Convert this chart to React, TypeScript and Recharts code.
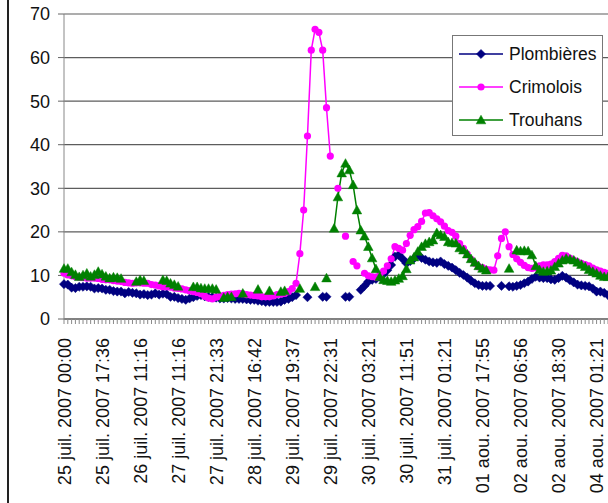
import { useEffect } from "react"
import { CartesianGrid, Legend, Line, LineChart, XAxis, YAxis } from "recharts"

// one label every LABEL_EVERY categories, as on the original axis
const LABEL_EVERY = 10

const tickLabels = [
  "25 juil. 2007 00:00",
  "25 juil. 2007 17:36",
  "26 juil. 2007 11:16",
  "27 juil. 2007 11:16",
  "27 juil. 2007 21:33",
  "28 juil. 2007 16:42",
  "29 juil. 2007 19:37",
  "29 juil. 2007 22:31",
  "30 juil. 2007 03:21",
  "30 juil. 2007 11:51",
  "31 juil. 2007 01:21",
  "01 aou. 2007 17:55",
  "02 aou. 2007 06:56",
  "02 aou. 2007 18:30",
  "04 aou. 2007 01:21",
]

const yTicks = [0, 10, 20, 30, 40, 50, 60, 70]

const plombieres: (number | null)[] = [
  8.0, 7.9, 7.2, 7.1, 7.4, 7.4, 7.5, 7.4, 7.0, 7.1,
  7.0, 6.7, 6.7, 6.4, 6.3, 6.3, 5.9, 6.2, 6.0, 5.9,
  5.6, 5.7, 5.5, 5.6, 5.9, 5.6, 5.8, 5.7, 5.1, 5.1,
  4.8, 4.6, 4.4, 4.7, 5.0, 5.3, 5.5, 5.2, 5.1, 5.0,
  4.9, 4.7, 4.7, 4.8, 4.7, 4.6, 4.6, 4.6, 4.5, 4.4,
  4.4, 4.2, 4.1, 3.9, 3.9, 3.9, 3.9, 4.0, 4.4, 4.6,
  5.0, 5.5, null, null, 5.0, null, null, null, 5.1, 5.1,
  null, null, null, null, 5.1, 5.1, null, null, 6.7, 7.6,
  8.6, 9.0, 9.2, 9.7, 10.3, 11.2, 12.4, 14.3, 14.7, 13.8,
  12.8, 13.3, 13.9, 14.7, 14.0, 13.6, 13.2, 13.0, 12.9, 13.2,
  12.6, 12.2, 11.8, 11.2, 10.6, 10.1, 9.5, 8.8, 8.2, 7.8,
  7.6, 7.6, 7.6, null, null, 7.6, null, 7.5, 7.4, 7.6,
  7.8, 8.2, 8.6, 9.2, 9.7, 9.5, 9.4, 9.4, 9.1, 9.0,
  9.4, 9.9, 9.5, 8.9, 8.4, 7.9, 7.7, 7.6, 7.5, 7.0,
  6.3, 6.3, 6.0, 5.5,
]

const crimolois: (number | null)[] = [
  10.5, 10.1, 9.9, 9.7, 9.6, 9.5, 9.4, 9.4, 9.4, 9.3,
  9.1, 9.0, 9.0, 8.8, 8.7, 8.6, 8.4, 8.3, 8.2, 8.3,
  8.3, 8.2, 8.2, 7.9, 7.8, 7.6, 7.4, 7.4, 7.3, 7.1,
  7.0, 6.9, 6.7, 6.5, 6.3, 6.1, 5.8, 5.2, 4.8, 4.6,
  5.0, 5.2, 5.4, 5.6, 5.7, 5.8, 5.9, 5.8, 5.6, 5.5,
  5.4, 5.3, 5.1, 5.1, 5.1, 5.3, 5.6, 5.7, 5.9, 6.3,
  7.0, 8.2, 15, 25, 42, 61.7, 66.5, 65.8, 61.7, 48.5,
  37.4, null, 30, null, 19, null, 13.2, 12.2, null, 10.5,
  9.9, 9.7, 9.6, 10.0, 11.0, 12.2, 13.8, 16.6, 16.2, 15.8,
  17.3, 19.2, 20.5, 21.2, 22.4, 24.3, 24.4, 23.7, 23.0, 22.3,
  21.3, 20.3, 19.9, 19.0, 17.3, 16.2, 14.9, 13.7, 12.8, 12.0,
  11.8, 11.4, 11.3, 11.2, 14.5, 18.5, 20.0, 16.6, 14.8, 13.8,
  13.0, 12.3, 11.8, 11.6, 11.8, 12.2, 12.4, 12.4, 12.6, 13.2,
  13.9, 14.6, 14.5, 14.0, 13.5, 13.1, 12.8, 12.5, 12.2, 11.7,
  11.3, 11.0, 10.7, 10.5,
]

const trouhans: (number | null)[] = [
  11.6, 11.6, 10.8, 10.2, 9.7, 10.1, 10.5, 9.8, 10.2, 10.9,
  10.3, 9.8, 9.4, 9.6, 9.5, 9.3, null, null, null, 8.6,
  9.0, 8.8, null, null, null, null, 9.0, 8.8, 8.2, 7.9,
  7.5, null, null, null, 7.4, 7.4, 7.1, 7.0, 7.0, 7.0,
  6.8, null, 4.9, 5.1, 5.1, null, null, 5.9, null, null,
  null, 6.8, null, null, 6.5, null, null, 6.3, 6.5, null,
  null, null, 7.0, null, null, null, 7.4, null, null, 9.4,
  null, 20.8, 28, 33.5, 35.7, 34.2, 30.8, 25, 20.4, 19,
  16.6, 14, 11.5, 9.7, 9.0, 8.8, 8.6, 8.9, 9.3, 9.9,
  11.5, 13.5, 14.2, 15.5, 16.6, 17.3, 17.7, 18.1, 19.8, 19.3,
  18.9, 17.7, 17.5, 17.4, 16.3, 15.8, 14.9, 13.8, 13.0, 12.2,
  11.6, 11.2, null, null, null, null, null, 11.6, null, 15.8,
  15.6, 15.7, 15.6, 14.7, 12.2, 11.3, 10.9, 11.0, 11.2, 12.0,
  12.8, 13.5, 13.9, 13.7, 13.5, 13.0, 12.5, 12.0, 11.3, 10.9,
  10.5, 10.0, 9.7, 9.7,
]

const series = [
  { key: "plombieres", name: "Plombières", color: "#000080", marker: "diamond" },
  { key: "crimolois", name: "Crimolois", color: "#ff00ff", marker: "circle" },
  { key: "trouhans", name: "Trouhans", color: "#008000", marker: "triangle" },
]

const data = plombieres.map((value, i) => ({
  idx: i,
  plombieres: value,
  crimolois: crimolois[i],
  trouhans: trouhans[i],
}))

const FONT = "'Liberation Sans', Arial, sans-serif"

const markerShape = (marker: string, cx: number, cy: number, color: string, key?: string) => {
  if (marker === "diamond") {
    const r = 4.6
    return (
      <polygon
        key={key}
        points={`${cx},${cy - r} ${cx + r},${cy} ${cx},${cy + r} ${cx - r},${cy}`}
        fill={color}
        stroke={color}
        strokeWidth={0.5}
      />
    )
  }
  if (marker === "triangle") {
    const r = 4.8
    return (
      <polygon
        key={key}
        points={`${cx},${cy - r} ${cx + r},${cy + r * 0.8} ${cx - r},${cy + r * 0.8}`}
        fill={color}
        stroke={color}
        strokeWidth={0.5}
      />
    )
  }
  return <circle key={key} cx={cx} cy={cy} r={3.6} fill={color} />
}

const makeDot = (marker: string, color: string) => (props: any) => {
  const { cx, cy, value, index } = props
  const key = `${marker}-${index}`
  if (value == null || cy == null || cx == null) return <g key={key} />
  return markerShape(marker, cx, cy, color, key)
}

const XTick = (props: any) => {
  const { x, y, payload } = props
  const i = Number(payload.value)
  if (i % LABEL_EVERY !== 0) return <g />
  const label = tickLabels[i / LABEL_EVERY]
  if (!label) return <g />
  return (
    <text
      transform={`translate(${x + 6.5}, ${y + 12}) rotate(-90)`}
      textAnchor="end"
      fontSize={18}
      fontFamily={FONT}
      fill="#111"
    >
      {label}
    </text>
  )
}

const LegendBox = () => (
  <div
    style={{
      width: 151,
      height: 101,
      boxSizing: "border-box",
      border: "1px solid #777",
      background: "#fff",
      paddingTop: 1,
      fontFamily: FONT,
    }}
  >
    {series.map((s) => (
      <div key={s.key} style={{ display: "flex", alignItems: "center", height: 33 }}>
        <svg width={56} height={14} style={{ display: "block" }}>
          <line x1={6} y1={7} x2={50} y2={7} stroke={s.color} strokeWidth={1.5} />
          {markerShape(s.marker, 28, 7, s.color)}
        </svg>
        <span style={{ fontSize: 17.5, color: "#111", lineHeight: "18px" }}>{s.name}</span>
      </div>
    ))}
  </div>
)

export default function App() {
  useEffect(() => {
    document.documentElement.style.overflow = "hidden"
    document.body.style.overflow = "hidden"
  }, [])

  return (
    <div
      style={{
        position: "fixed",
        left: 0,
        top: 0,
        width: 608,
        height: 503,
        overflow: "hidden",
        background: "#fff",
        fontFamily: FONT,
      }}
    >
      <div
        style={{
          position: "absolute",
          left: 7,
          top: 0,
          width: 2,
          height: 503,
          background: "#222",
        }}
      />
      <LineChart
        width={624}
        height={503}
        data={data}
        margin={{ top: 14, right: 16, left: 10, bottom: 0 }}
      >
        <CartesianGrid vertical={false} stroke="#5c5c5c" strokeWidth={1.2} />
        <XAxis
          dataKey="idx"
          type="category"
          interval={0}
          height={184}
          tickSize={5}
          tickLine={{ stroke: "#8a8a8a" }}
          axisLine={{ stroke: "#555" }}
          tick={<XTick />}
        />
        <YAxis
          domain={[0, 70]}
          ticks={yTicks}
          width={54}
          tickSize={6}
          tickMargin={8}
          tickLine={{ stroke: "#666" }}
          axisLine={{ stroke: "#888" }}
          tick={{ fontSize: 18, fill: "#111", fontFamily: FONT }}
        />
        <Legend
          layout="vertical"
          align="center"
          verticalAlign="middle"
          wrapperStyle={{ left: 452, top: 35, width: 151, height: 101 }}
          content={<LegendBox />}
        />
        {series.map((s) => (
          <Line
            key={s.key}
            dataKey={s.key}
            name={s.name}
            type="linear"
            stroke={s.color}
            strokeWidth={1.5}
            dot={makeDot(s.marker, s.color)}
            activeDot={false}
            connectNulls={false}
            isAnimationActive={false}
          />
        ))}
      </LineChart>
    </div>
  )
}
